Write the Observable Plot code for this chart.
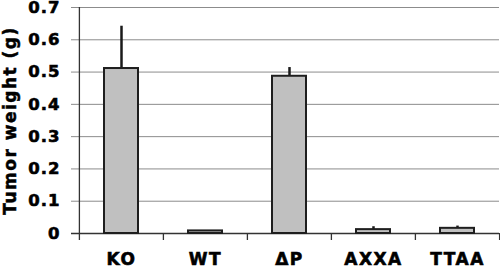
<!DOCTYPE html>
<html>
<head>
<meta charset="utf-8">
<script src="https://cdn.jsdelivr.net/npm/d3@7"></script>
<script src="https://cdn.jsdelivr.net/npm/@observablehq/plot@0.6"></script>
<style>
  html, body { margin: 0; padding: 0; background: #fff; }
  #chart svg { display: block; }
  #chart g[aria-label="x-axis tick label"] { font-size: 17px; }
  #chart g[aria-label="x-axis tick label"] text { letter-spacing: 1.5px; font-size: 17px; stroke: #000; stroke-width: 0.6px; }
  #chart g[aria-label="y-axis tick label"] { font-size: 16.5px; }
  #chart g[aria-label="y-axis tick label"] text { letter-spacing: 1px; font-size: 16.5px; stroke: #000; stroke-width: 0.6px; }
  #chart g[aria-label="y-axis label"] text { letter-spacing: 1.5px; font-size: 17px; stroke: #000; stroke-width: 0.5px; }
</style>
</head>
<body>
<div id="chart"></div>
<script>
const categories = ["KO", "WT", "\u0394P", "AXXA", "TTAA"];
const means = [0.511, 0.008, 0.487, 0.012, 0.016];
const errors = [0.131, 0, 0.027, 0.009, 0.007];
const yTicks = [0, 0.1, 0.2, 0.3, 0.4, 0.5, 0.6, 0.7];

const data = categories.map((c, i) => ({cat: c, mean: means[i], err: errors[i]}));

const W = 500, H = 266;
const mL = 78, mR = 1, mT = 7, mB = 33;
const step = (W - mL - mR) / categories.length;

const chart = Plot.plot({
  width: W,
  height: H,
  marginLeft: mL,
  marginRight: mR,
  marginTop: mT,
  marginBottom: mB,
  style: {fontFamily: "DejaVu Sans", fontWeight: "bold", color: "#000", background: "#fff"},
  x: {domain: categories, paddingInner: 0.6, paddingOuter: 0.3, axis: null},
  y: {domain: [0, 0.7], axis: null},
  marks: [
    Plot.ruleY(yTicks.slice(1), {stroke: "#8c8c8c", strokeWidth: 1, insetLeft: -7}),
    Plot.ruleY([0], {stroke: "#333", strokeWidth: 1.3, insetLeft: -7}),
    Plot.ruleX([categories[0]], {x: d => d, y1: 0.7, y2: 0, insetBottom: -7, dx: -step / 2, stroke: "#333", strokeWidth: 1.3}),
    Plot.ruleX(categories.slice(1), {x: d => d, y1: 0, y2: 0, insetBottom: -7, dx: -step / 2, stroke: "#333", strokeWidth: 1.3}),
    Plot.ruleX([categories[categories.length - 1]], {x: d => d, y1: 0, y2: 0, insetBottom: -7, dx: step / 2, stroke: "#333", strokeWidth: 1.3}),
    Plot.ruleX(data.filter(d => d.err > 0), {x: "cat", y1: "mean", y2: d => d.mean + d.err, stroke: "#1a1a1a", strokeWidth: 2.5}),
    Plot.barY(data, {x: "cat", y: "mean", fill: "#c0c0c0", stroke: "#1e1e1e", strokeWidth: 2}),
    Plot.axisY(yTicks, {
      tickSize: 0,
      tickPadding: 18,
      tickFormat: d => d === 0 ? "0" : d.toFixed(1),
      label: "Tumor weight (g)",
      labelAnchor: "center",
      labelArrow: "none"
    }),
    Plot.axisX({tickSize: 0, tickPadding: 19, label: null})
  ]
});

document.getElementById("chart").appendChild(chart);
</script>
</body>
</html>
